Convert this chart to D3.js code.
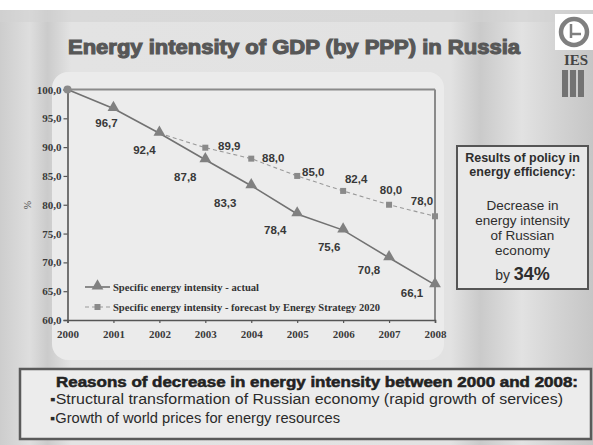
<!DOCTYPE html>
<html>
<head>
<meta charset="utf-8">
<script src="https://cdn.jsdelivr.net/npm/d3@7"></script>
<style>
  body { margin: 0; padding: 0; background: #fff; }
  svg { display: block; }
</style>
</head>
<body>
<div id="chart"></div>
<script>
// data
var years = [2000, 2001, 2002, 2003, 2004, 2005, 2006, 2007, 2008];
var actual = [100.0, 96.7, 92.4, 87.8, 83.3, 78.4, 75.6, 70.8, 66.1];
var forecastYears = [2002, 2003, 2004, 2005, 2006, 2007, 2008];
var forecast = [92.4, 89.9, 88.0, 85.0, 82.4, 80.0, 78.0];
var yTicks = [60, 65, 70, 75, 80, 85, 90, 95, 100];
var seriesNames = ["Specific energy intensity - actual", "Specific energy intensity - forecast by Energy Strategy 2020"];

// label nudges (layout only)
var actualOff = [null, [-7, 18], [-15, 21], [-20, 21], [-26, 21], [-22, 20], [-14, 21], [-20, 16], [-23, 12]];
var forecastOff = [null, [24, 2], [22, 3], [16, 0], [13, -8], [2, -11], [-13, -11]];

var W = 593, H = 445;
var svg = d3.select("#chart").append("svg").attr("width", W).attr("height", H);

// ---- background ----
var defs = svg.append("defs");
var lg = defs.append("linearGradient").attr("id", "bgGrad").attr("x1", 0).attr("x2", 1).attr("y1", 0).attr("y2", 0);
lg.append("stop").attr("offset", "0%").attr("stop-color", "#cdcdcd");
lg.append("stop").attr("offset", "5%").attr("stop-color", "#dedede");
lg.append("stop").attr("offset", "8%").attr("stop-color", "#cbcbcb");
lg.append("stop").attr("offset", "12%").attr("stop-color", "#e3e3e3");
lg.append("stop").attr("offset", "76%").attr("stop-color", "#e2e2e2");
lg.append("stop").attr("offset", "81%").attr("stop-color", "#cacaca");
lg.append("stop").attr("offset", "88%").attr("stop-color", "#e2e2e2");
lg.append("stop").attr("offset", "94%").attr("stop-color", "#d3d3d3");
lg.append("stop").attr("offset", "100%").attr("stop-color", "#c6c6c6");

svg.append("rect").attr("x", 0).attr("y", 0).attr("width", W).attr("height", H).style("fill", "url(#bgGrad)");
svg.append("rect").attr("x", 0).attr("y", 0).attr("width", W).attr("height", 10).style("fill", "#ffffff");
svg.append("rect").attr("x", 0).attr("y", 10).attr("width", W).attr("height", 12).style("fill", "#d2d2d2").style("opacity", 0.6);
// lighter panel behind the chart
svg.append("rect").attr("x", 52).attr("y", 72).attr("width", 392).attr("height", 288).attr("rx", 16).style("fill", "#ebebeb");

// ---- title ----
svg.append("text").attr("x", 294).attr("y", 54).attr("text-anchor", "middle")
  .attr("textLength", 452).attr("lengthAdjust", "spacingAndGlyphs")
  .style("font-family", "Liberation Sans, Arial, sans-serif").style("font-weight", "bold").style("font-size", "20px")
  .style("fill", "#575757").style("stroke", "#575757").style("stroke-width", "1.1px")
  .text("Energy intensity of GDP (by PPP) in Russia");

// ---- logo ----
var logo = svg.append("g").attr("class", "logo");
logo.append("rect").attr("x", 555).attr("y", 14).attr("width", 38).attr("height", 36).style("fill", "#ffffff");
logo.append("circle").attr("cx", 574).attr("cy", 32).attr("r", 13).style("fill", "none").style("stroke", "#7f7f7f").style("stroke-width", 4.5);
logo.append("line").attr("x1", 571).attr("x2", 571).attr("y1", 24).attr("y2", 38).style("stroke", "#7f7f7f").style("stroke-width", 2.5);
logo.append("line").attr("x1", 571).attr("x2", 581).attr("y1", 34).attr("y2", 34).style("stroke", "#7f7f7f").style("stroke-width", 2.5);
logo.append("text").attr("x", 576).attr("y", 65).attr("text-anchor", "middle")
  .style("font-family", "Liberation Serif, serif").style("font-weight", "bold").style("font-size", "15px").style("fill", "#444")
  .text("IES");
[562, 570, 578].forEach(function(bx) {
  logo.append("rect").attr("x", bx).attr("y", 70).attr("width", 6).attr("height", 27).style("fill", "#737373");
});

// ---- chart ----
var x = d3.scaleLinear().domain([2000, 2008]).range([67.5, 435]);
var y = d3.scaleLinear().domain([60, 100]).range([320, 89.5]);
var fmt = function(v) { return d3.format(".1f")(v).replace(".", ","); };

var chart = svg.append("g").attr("class", "chart");
chart.append("rect").attr("x", x(2000)).attr("y", y(100)).attr("width", x(2008) - x(2000)).attr("height", y(60) - y(100))
  .style("fill", "#ececec");

// frame top/right
chart.append("line").attr("x1", x(2000)).attr("x2", x(2008)).attr("y1", y(100)).attr("y2", y(100)).style("stroke", "#8a8a8a").style("stroke-width", 2);
chart.append("line").attr("x1", x(2008)).attr("x2", x(2008)).attr("y1", y(100)).attr("y2", y(60)).style("stroke", "#8a8a8a").style("stroke-width", 2);

var yAxis = chart.append("g").attr("transform", "translate(" + x(2000) + ",0)")
  .call(d3.axisLeft(y).tickValues(yTicks).tickFormat(fmt).tickSize(4).tickPadding(2));
var xAxis = chart.append("g").attr("transform", "translate(0," + y(60) + ")")
  .call(d3.axisBottom(x).tickValues(years).tickFormat(d3.format("d")).tickSize(3).tickPadding(7));

[yAxis, xAxis].forEach(function(a) {
  a.select(".domain").style("stroke", "#555").style("stroke-width", 1.6);
  a.selectAll(".tick line").style("stroke", "#555").style("stroke-width", 1.2);
  a.selectAll(".tick text").style("font-family", "Liberation Serif, Times New Roman, serif")
    .style("font-weight", "bold").style("font-size", "11px").style("fill", "#3a3a3a");
});

chart.append("text").attr("transform", "translate(31,205) rotate(-90)").attr("text-anchor", "middle")
  .style("font-family", "Liberation Serif, serif").style("font-size", "10px").style("fill", "#444").text("%");

// forecast line (dashed)
var fPts = forecastYears.map(function(d, i) { return [d, forecast[i]]; });
var aPts = years.map(function(d, i) { return [d, actual[i]]; });
var line = d3.line().x(function(d) { return x(d[0]); }).y(function(d) { return y(d[1]); });

chart.append("path").datum(fPts).attr("d", line)
  .style("fill", "none").style("stroke", "#9a9a9a").style("stroke-width", 1.1).style("stroke-dasharray", "4,3");
chart.selectAll("rect.fMark").data(fPts.slice(1)).enter().append("rect").attr("class", "fMark")
  .attr("x", function(d) { return x(d[0]) - 3; }).attr("y", function(d) { return y(d[1]) - 3; })
  .attr("width", 6).attr("height", 6).style("fill", "#8a8a8a");

chart.append("path").datum(aPts).attr("d", line)
  .style("fill", "none").style("stroke", "#727272").style("stroke-width", 1.6);
var tri = d3.symbol().type(d3.symbolTriangle).size(60);
chart.selectAll("path.aMark").data(aPts.slice(1)).enter().append("path").attr("class", "aMark")
  .attr("d", tri).attr("transform", function(d) { return "translate(" + x(d[0]) + "," + (y(d[1]) - 1) + ")"; })
  .style("fill", "#808080");
chart.append("circle").attr("cx", x(2000)).attr("cy", y(100)).attr("r", 4).style("fill", "#8a8a8a");

// value labels
var labelStyle = function(sel) {
  sel.attr("text-anchor", "middle").style("font-family", "Liberation Sans, Arial, sans-serif")
    .style("font-weight", "bold").style("font-size", "11.5px").style("fill", "#383838");
};
chart.selectAll("text.aLab").data(aPts).enter().filter(function(d, i) { return i > 0; })
  .append("text").attr("class", "aLab")
  .attr("x", function(d) { var i = years.indexOf(d[0]); return x(d[0]) + actualOff[i][0]; })
  .attr("y", function(d) { var i = years.indexOf(d[0]); return y(d[1]) + actualOff[i][1]; })
  .call(labelStyle).text(function(d) { return fmt(d[1]); });
chart.selectAll("text.fLab").data(fPts).enter().filter(function(d, i) { return i > 0; })
  .append("text").attr("class", "fLab")
  .attr("x", function(d) { var i = forecastYears.indexOf(d[0]); return x(d[0]) + forecastOff[i][0]; })
  .attr("y", function(d) { var i = forecastYears.indexOf(d[0]); return y(d[1]) + forecastOff[i][1]; })
  .call(labelStyle).text(function(d) { return fmt(d[1]); });

// legend
var leg = chart.append("g").attr("class", "legend");
seriesNames.forEach(function(name, i) {
  var ly = 287 + i * 20;
  leg.append("line").attr("x1", 85).attr("x2", 110).attr("y1", ly).attr("y2", ly)
    .style("stroke", i == 0 ? "#727272" : "#9a9a9a").style("stroke-width", i == 0 ? 1.6 : 1.1)
    .style("stroke-dasharray", i == 0 ? null : "4,3");
  if (i == 0) {
    leg.append("path").attr("d", tri).attr("transform", "translate(97.5," + (ly - 1) + ")").style("fill", "#808080");
  } else {
    leg.append("rect").attr("x", 94.5).attr("y", ly - 3).attr("width", 6).attr("height", 6).style("fill", "#8a8a8a");
  }
  leg.append("text").attr("x", 113).attr("y", ly + 3.5)
    .attr("textLength", i == 0 ? 146 : 267).attr("lengthAdjust", "spacingAndGlyphs")
    .style("font-family", "Liberation Serif, Times New Roman, serif").style("font-weight", "bold")
    .style("font-size", "11px").style("fill", "#333").text(name);
});

// ---- results box ----
var rb = svg.append("g").attr("class", "results");
rb.append("rect").attr("x", 457).attr("y", 146).attr("width", 131).attr("height", 143)
  .style("fill", "#e9e9e9").style("stroke", "#555").style("stroke-width", 2);
var rbLines = [
  ["Results of policy in", 162, "bold", 12.5],
  ["energy efficiency:", 176, "bold", 12.5],
  ["Decrease in", 210, "normal", 13.5],
  ["energy intensity", 225, "normal", 13.5],
  ["of Russian", 240, "normal", 13.5],
  ["economy", 255, "normal", 13.5]
];
rbLines.forEach(function(l) {
  rb.append("text").attr("x", 522.5).attr("y", l[1]).attr("text-anchor", "middle")
    .style("font-family", "Liberation Sans, Arial, sans-serif").style("font-weight", l[2])
    .style("font-size", l[3] + "px").style("fill", "#2e2e2e").text(l[0]);
});
var byT = rb.append("text").attr("x", 522.5).attr("y", 280).attr("text-anchor", "middle")
  .style("font-family", "Liberation Sans, Arial, sans-serif").style("fill", "#2e2e2e");
byT.append("tspan").style("font-size", "14px").text("by ");
byT.append("tspan").style("font-size", "18px").style("font-weight", "bold").text("34%");

// ---- reasons box ----
var bb = svg.append("g").attr("class", "reasons");
bb.append("rect").attr("x", 20).attr("y", 369).attr("width", 571).attr("height", 70)
  .style("fill", "#ececec").style("stroke", "#5a5a5a").style("stroke-width", 2.5);
bb.append("text").attr("x", 56).attr("y", 387).attr("textLength", 522).attr("lengthAdjust", "spacingAndGlyphs")
  .style("font-family", "Liberation Sans, Arial, sans-serif").style("font-weight", "bold").style("font-size", "14px")
  .style("fill", "#222").style("stroke", "#222").style("stroke-width", "0.5px")
  .text("Reasons of decrease in energy intensity between 2000 and 2008:");
bb.append("text").attr("x", 50).attr("y", 404).attr("textLength", 513).attr("lengthAdjust", "spacingAndGlyphs")
  .style("font-family", "Liberation Sans, Arial, sans-serif").style("font-size", "14px").style("fill", "#2a2a2a")
  .text("\u25AAStructural transformation of Russian economy (rapid growth of services)");
bb.append("text").attr("x", 50).attr("y", 423).attr("textLength", 290).attr("lengthAdjust", "spacingAndGlyphs")
  .style("font-family", "Liberation Sans, Arial, sans-serif").style("font-size", "14px").style("fill", "#2a2a2a")
  .text("\u25AAGrowth of world prices for energy resources");
</script>
</body>
</html>
